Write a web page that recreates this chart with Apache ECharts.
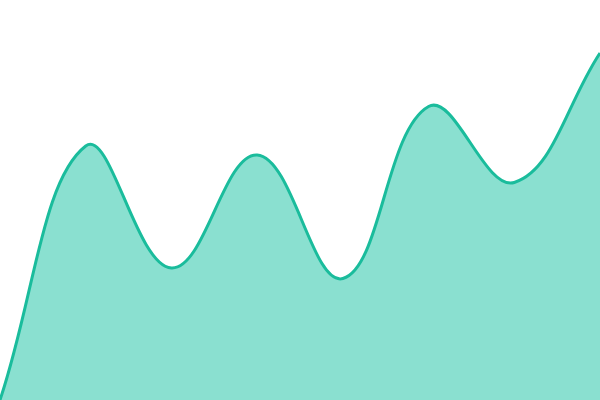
<!DOCTYPE html>
<html><head><meta charset="utf-8">
<script src="https://cdn.jsdelivr.net/npm/echarts@6/dist/echarts.min.js"></script>
<style>html,body{margin:0;padding:0;background:#fff}#c{width:600px;height:400px}</style>
</head><body><div id="c"></div>
<script>
const categories = ['A','B','C','D','E','F','G','H'];
const values = [0, 254, 132, 245, 121.5, 293.5, 217.5, 347];
const tension = 0.4;

function controlPoints(prev, cur, next, t) {
  const d01 = Math.hypot(cur[0]-prev[0], cur[1]-prev[1]);
  const d12 = Math.hypot(next[0]-cur[0], next[1]-cur[1]);
  let s01 = d01 / (d01 + d12), s12 = d12 / (d01 + d12);
  if (!isFinite(s01)) s01 = 0;
  if (!isFinite(s12)) s12 = 0;
  const fa = t * s01, fb = t * s12;
  return {
    prev: [cur[0] - fa * (next[0] - prev[0]), cur[1] - fa * (next[1] - prev[1])],
    next: [cur[0] + fb * (next[0] - prev[0]), cur[1] + fb * (next[1] - prev[1])]
  };
}

const chart = echarts.init(document.getElementById('c'));
chart.setOption({
  animation: false,
  grid: {left: 0, right: 0, top: 0, bottom: 0},
  xAxis: {type: 'category', data: categories, boundaryGap: false, show: false},
  yAxis: {type: 'value', min: 0, max: 400, show: false},
  series: [{
    type: 'custom',
    data: values.map((v, i) => [i, v]),
    encode: {x: 0, y: 1},
    renderItem: function (params, api) {
      if (params.dataIndex !== 0) return null;
      const cs = params.coordSys;
      const pts = values.map((v, i) => api.coord([i, v]));
      const clampPt = p => [Math.min(Math.max(p[0], cs.x), cs.x + cs.width),
                            Math.min(Math.max(p[1], cs.y), cs.y + cs.height)];
      const cps = pts.map((p, i) => {
        const prev = pts[i - 1] || p, next = pts[i + 1] || p;
        const c = controlPoints(prev, p, next, tension);
        return {prev: clampPt(c.prev), next: clampPt(c.next)};
      });
      let line = 'M' + pts[0][0] + ' ' + pts[0][1];
      for (let i = 1; i < pts.length; i++) {
        const a = cps[i - 1].next, b = cps[i].prev, p = pts[i];
        line += ' C' + a[0] + ' ' + a[1] + ' ' + b[0] + ' ' + b[1] + ' ' + p[0] + ' ' + p[1];
      }
      const base = api.coord([0, 0])[1];
      const last = pts[pts.length - 1];
      const area = line + ' L' + last[0] + ' ' + base + ' L' + pts[0][0] + ' ' + base + ' Z';
      return {
        type: 'group',
        children: [
          {type: 'path', shape: {pathData: area}, style: {fill: '#8ae0d0', stroke: 'none'}},
          {type: 'path', shape: {pathData: line}, style: {fill: 'none', stroke: '#1abc9c', lineWidth: 3}}
        ]
      };
    }
  }]
});
</script></body></html>
